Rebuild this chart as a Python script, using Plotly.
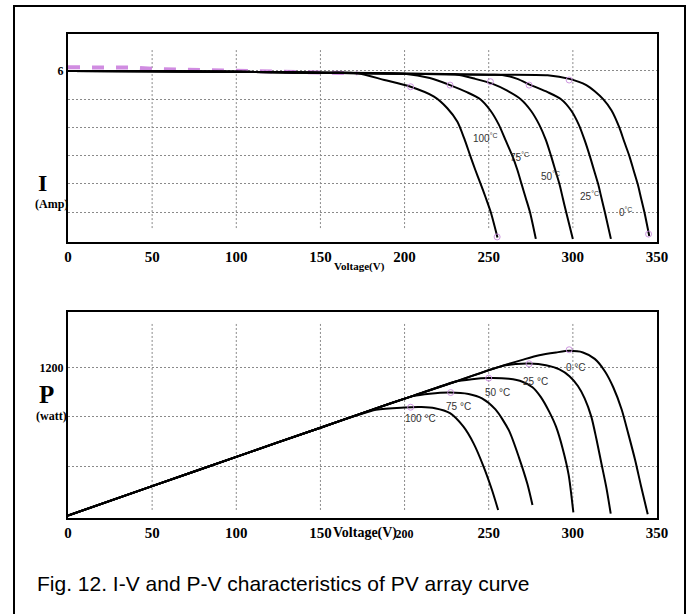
import plotly.graph_objects as go

# ---------------- I-V data (Voltage V, Current A) ----------------
iv_v_100 = [0, 50, 100, 150, 172, 188, 203.6, 217.5, 225.4, 231.4, 235.5, 239, 242, 245.2, 248.3, 251.2, 255.2]
iv_i_100 = [6.00, 5.99, 5.97, 5.94, 5.92, 5.68, 5.44, 5.09, 4.68, 4.20, 3.60, 3.00, 2.50, 2.00, 1.50, 1.00, 0.10]

iv_v_75 = [0, 50, 100, 150, 200, 215, 227, 237, 245, 251, 256, 260, 264, 267, 269.5, 272, 274.5, 278]
iv_i_75 = [6.00, 5.99, 5.97, 5.94, 5.90, 5.75, 5.50, 5.25, 5.00, 4.60, 4.10, 3.55, 3.00, 2.50, 2.00, 1.50, 1.00, 0.05]

iv_v_50 = [0, 50, 100, 150, 200, 230, 242, 252, 261, 269, 275, 280, 284, 287, 289.5, 292, 294, 296, 300]
iv_i_50 = [6.00, 5.99, 5.97, 5.94, 5.90, 5.88, 5.72, 5.55, 5.30, 5.00, 4.60, 4.10, 3.55, 3.00, 2.50, 2.00, 1.50, 1.00, 0.05]

iv_v_25 = [0, 50, 100, 150, 200, 250, 258, 267, 275, 285, 293, 299, 303.5, 307, 310, 312.5, 315, 317, 319, 322.6]
iv_i_25 = [6.00, 5.99, 5.97, 5.94, 5.90, 5.87, 5.86, 5.72, 5.50, 5.25, 5.00, 4.60, 4.10, 3.55, 3.00, 2.50, 2.00, 1.50, 1.00, 0.05]

iv_v_0 = [0, 50, 100, 150, 200, 250, 285, 298, 308, 313, 318, 323, 327.6, 330.5, 333.5, 336, 338.5, 340.5, 342.5, 345.4]
iv_i_0 = [6.00, 5.99, 5.97, 5.94, 5.90, 5.87, 5.85, 5.72, 5.50, 5.28, 5.00, 4.60, 4.00, 3.50, 3.00, 2.50, 2.00, 1.50, 1.00, 0.15]

iv_dash_v = [0, 40, 55, 100, 150, 172]
iv_dash_i = [6.13, 6.12, 6.06, 6.00, 5.95, 5.92]

iv_mark_v = [203.6, 227, 251, 274, 297.8, 255, 345]
iv_mark_i = [5.44, 5.50, 5.62, 5.50, 5.68, 0.12, 0.22]

# ---------------- P-V data (Voltage V, Power W) ----------------
pv_v_100 = [0, 50, 100, 150, 183, 200, 210, 218, 227, 235, 241, 247, 252, 255.6]
pv_p_100 = [0, 238, 476, 712, 858, 876, 879, 870, 830, 720, 585, 395, 205, 45]

pv_v_75 = [0, 50, 100, 150, 180, 205, 215, 227, 238, 246, 254, 262, 268, 273, 276]
pv_p_75 = [0, 238, 476, 712, 855, 968, 988, 997, 985, 950, 860, 690, 470, 255, 85]

pv_v_50 = [0, 50, 100, 150, 180, 205, 230, 240, 250, 262, 270, 276, 281, 286, 290, 294, 297.5, 300.3]
pv_p_50 = [0, 238, 476, 712, 855, 970, 1085, 1105, 1114, 1108, 1085, 1040, 960, 840, 720, 540, 330, 25]

pv_v_25 = [0, 50, 100, 150, 180, 205, 230, 258, 266, 274, 284, 292, 298, 303, 307, 311, 314, 317, 320, 322.5]
pv_p_25 = [0, 238, 476, 712, 855, 970, 1085, 1213, 1228, 1232, 1218, 1185, 1130, 1050, 950, 800, 620, 420, 220, 15]

pv_v_0 = [0, 50, 100, 150, 180, 205, 230, 258, 270, 280, 290, 298, 306, 313, 319, 324, 329, 333, 337, 340.5, 344.5]
pv_p_0 = [0, 238, 476, 712, 855, 970, 1085, 1213, 1262, 1300, 1322, 1335, 1322, 1270, 1170, 1040, 860, 660, 450, 240, 10]

pv_mark_v = [203.6, 227.4, 250, 274, 297.8]
pv_mark_p = [878, 997, 1114, 1230, 1344]

# ---------------- labels ----------------
x_ticks = [0, 50, 100, 150, 200, 250, 300, 350]
x_ticktext_top = ["0", "50", "100", "150", "200", "250", "300", "350"]
x_ticktext_bot = ["0", "50", "100", "150", '<span style="font-size:12px">200</span>', "250", "300", "350"]
grid_v = [50, 100, 150, 200, 250, 300]
i_ticks = [1, 2, 3, 4, 5, 6]
i_ticktext = ["", "", "", "", "", "6"]
p_ticks = [400, 800, 1200]
p_ticktext = ["", "", "1200"]

temps = ["100", "75", "50", "25", "0"]
iv_label_v = [248, 268.5, 287, 310, 331.5]
iv_label_i = [3.62, 2.95, 2.28, 1.57, 1.00]
pv_label_v = [209.5, 232, 255, 278, 302]
pv_label_p = [783, 880, 994, 1084, 1198]

caption = "Fig. 12. I-V and P-V characteristics of PV array curve"

# ---------------- figure ----------------
fig = go.Figure()

fig.add_trace(go.Scatter(x=iv_dash_v, y=iv_dash_i, mode="lines",
                         line=dict(color="rgba(200,120,220,0.85)", width=4, dash="dash"),
                         xaxis="x", yaxis="y", hoverinfo="skip"))

line_style = dict(color="black", width=2, shape="spline", smoothing=0.7)
for v, i in [(iv_v_100, iv_i_100), (iv_v_75, iv_i_75), (iv_v_50, iv_i_50),
             (iv_v_25, iv_i_25), (iv_v_0, iv_i_0)]:
    fig.add_trace(go.Scatter(x=v, y=i, mode="lines", line=line_style,
                             xaxis="x", yaxis="y", hoverinfo="skip"))

for v, p in [(pv_v_100, pv_p_100), (pv_v_75, pv_p_75), (pv_v_50, pv_p_50),
             (pv_v_25, pv_p_25), (pv_v_0, pv_p_0)]:
    fig.add_trace(go.Scatter(x=v, y=p, mode="lines", line=line_style,
                             xaxis="x2", yaxis="y2", hoverinfo="skip"))

mk = dict(symbol="circle-open", size=6, color="rgba(200,140,220,0.9)", line=dict(width=1))
fig.add_trace(go.Scatter(x=iv_mark_v, y=iv_mark_i, mode="markers", marker=mk,
                         xaxis="x", yaxis="y", hoverinfo="skip"))
fig.add_trace(go.Scatter(x=pv_mark_v, y=pv_mark_p, mode="markers", marker=mk,
                         xaxis="x2", yaxis="y2", hoverinfo="skip"))

W, H = 690, 614
L, R, T, B = 68, 33, 34, 96
plot_h = H - T - B
plot_w = W - L - R


def px_x(p):
    return (p - L) / plot_w


def px_y(p):
    return (H - B - p) / plot_h


top_dom = [px_y(242), 1.0]
bot_dom = [0.0, px_y(312)]

tick_font = dict(family="Liberation Serif", size=15, color="black", weight="bold")
ytick_font = dict(family="Liberation Serif", size=12, color="black", weight="bold")

axis_common = dict(showline=True, mirror=True, linecolor="black", linewidth=2,
                   ticks="", zeroline=False)

fig.update_layout(
    width=W, height=H,
    margin=dict(l=L, r=R, t=T, b=B),
    paper_bgcolor="white", plot_bgcolor="white",
    showlegend=False,
    xaxis=dict(domain=[0, 1], anchor="y", range=[0, 350], tickvals=x_ticks,
               ticktext=x_ticktext_top, tickfont=tick_font, showgrid=False, **axis_common),
    yaxis=dict(domain=top_dom, anchor="x", range=[-0.06, 7.31], tickvals=i_ticks,
               ticktext=i_ticktext, tickfont=ytick_font, showgrid=True,
               gridcolor="#8a8a8a", griddash="2px,2px", gridwidth=1, **axis_common),
    xaxis2=dict(domain=[0, 1], anchor="y2", range=[0, 350], tickvals=x_ticks,
                ticktext=x_ticktext_bot, tickfont=tick_font, showgrid=False, **axis_common),
    yaxis2=dict(domain=bot_dom, anchor="x2", range=[-20, 1650], tickvals=p_ticks,
                ticktext=p_ticktext, tickfont=ytick_font, showgrid=True,
                gridcolor="#8a8a8a", griddash="2px,2px", gridwidth=1, **axis_common),
)

shapes = []
for g in grid_v:
    shapes.append(dict(type="line", xref="x", yref="y domain", x0=g, x1=g, y0=0.067, y1=0.923,
                       line=dict(color="#8a8a8a", width=1, dash="2px,2px"), layer="below"))
    shapes.append(dict(type="line", xref="x2", yref="y2 domain", x0=g, x1=g, y0=0.039, y1=0.947,
                       line=dict(color="#8a8a8a", width=1, dash="2px,2px"), layer="below"))
shapes.append(dict(type="rect", xref="paper", yref="paper",
                   x0=px_x(14), x1=px_x(685), y0=px_y(640), y1=px_y(6),
                   line=dict(color="black", width=2), fillcolor="rgba(0,0,0,0)"))
fig.update_layout(shapes=shapes)

ann = []
serif_b = dict(family="Liberation Serif", color="black", weight="bold")
C = dict(xref="paper", yref="paper", showarrow=False, xanchor="center", yanchor="middle")
ann.append(dict(text="I", x=px_x(42), y=px_y(183), font=dict(size=24, **serif_b), **C))
ann.append(dict(text="(Amp)", x=px_x(51), y=px_y(204), font=dict(size=12, **serif_b), **C))
ann.append(dict(text="P", x=px_x(46), y=px_y(394), font=dict(size=25, **serif_b), **C))
ann.append(dict(text="(watt)", x=px_x(51), y=px_y(416), font=dict(size=12, **serif_b), **C))
ann.append(dict(text="Voltage(V)", x=px_x(359), y=px_y(266), font=dict(size=11, **serif_b), **C))
ann.append(dict(text="Voltage(V)", x=px_x(365), y=px_y(533), font=dict(size=14, **serif_b), **C))
ann.append(dict(text=caption, x=px_x(35), y=px_y(584), xref="paper", yref="paper",
                xanchor="left", yanchor="middle", showarrow=False,
                font=dict(family="Liberation Sans", size=21, color="black")))

lab_font = dict(family="Liberation Sans", size=10, color="#333333")
for t, v, i in zip(temps, iv_label_v, iv_label_i):
    ann.append(dict(text=t + "<sup>°C</sup>", x=v, y=i, xref="x", yref="y",
                    xanchor="center", yanchor="middle", showarrow=False, font=lab_font))
for t, v, p in zip(temps, pv_label_v, pv_label_p):
    ann.append(dict(text=t + " °C", x=v, y=p, xref="x2", yref="y2",
                    xanchor="center", yanchor="middle", showarrow=False, font=lab_font))
fig.update_layout(annotations=ann)

fig.write_html("out.html", config={"displayModeBar": False},
               post_script="document.body.style.margin='0';document.body.style.overflow='hidden';")
